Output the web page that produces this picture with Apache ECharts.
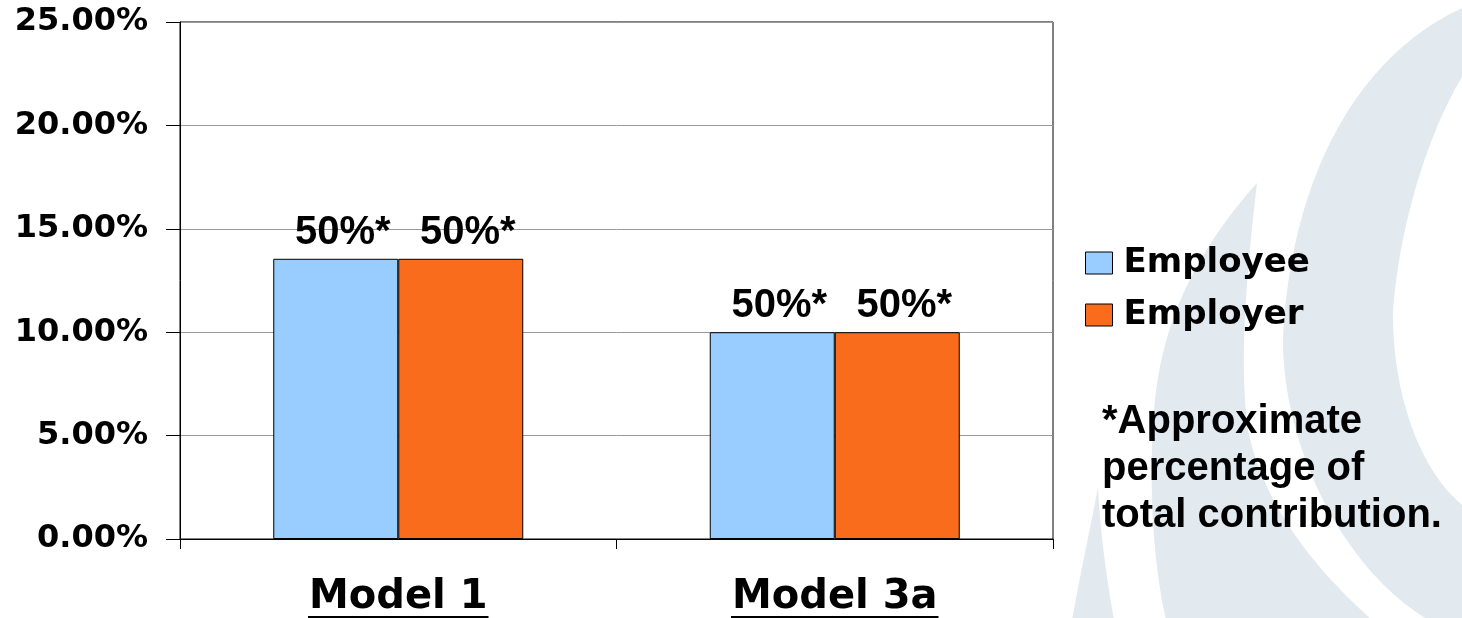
<!DOCTYPE html>
<html>
<head>
<meta charset="utf-8">
<script src="https://cdn.jsdelivr.net/npm/echarts@6/dist/echarts.min.js"></script>
<style>
html,body{margin:0;padding:0;background:#fff;}
#c{width:1462px;height:618px;}
</style>
</head>
<body>
<div id="c"></div>
<script>
// ---- data ----
const categories = ['Model 1', 'Model 3a'];
const seriesNames = ['Employee', 'Employer'];
const employeeValues = [13.55, 10.0];
const employerValues = [13.55, 10.0];
const employeeLabels = ['50%*', '50%*'];
const employerLabels = ['50%*', '50%*'];
const yMin = 0, yMax = 25, yInterval = 5;
const footnoteLines = ['*Approximate', 'percentage of', 'total contribution.'];

const colors = ['#99ccff', '#f96c1c'];
const BG = '#e2e9ef';

const chart = echarts.init(document.getElementById('c'), null, {renderer: 'canvas'});

// sample a chain of cubic bezier segments: start point then [c1,c2,end] triples
function bez(start, segs, n) {
  n = n || 24;
  const pts = [start];
  let p0 = start;
  segs.forEach(s => {
    const [c1, c2, p3] = s;
    for (let i = 1; i <= n; i++) {
      const t = i / n, u = 1 - t;
      pts.push([
        u*u*u*p0[0] + 3*u*u*t*c1[0] + 3*u*t*t*c2[0] + t*t*t*p3[0],
        u*u*u*p0[1] + 3*u*u*t*c1[1] + 3*u*t*t*c2[1] + t*t*t*p3[1]
      ]);
    }
    p0 = p3;
  });
  return pts;
}

function bgShapes() {
  const spike = bez([1098,487], [[[1100,530],[1106,575],[1114,620]]])
    .concat(bez([1072,620], [[[1080,575],[1090,530],[1098,487]]]));
  const crescent = bez([1257,183], [
      [[1215,230],[1165,300],[1155,400]],
      [[1148,470],[1152,560],[1166,620]]])
    .concat(bez([1372,620], [
      [[1310,565],[1262,500],[1248,430]],
      [[1238,360],[1248,260],[1257,183]]]));
  const ring = [[1470,4]].concat(bez([1462,8], [
      [[1360,55],[1296,170],[1284,320]],
      [[1275,420],[1330,560],[1428,620]]]))
    .concat([[1470,620],[1470,512]])
    .concat(bez([1462,505], [
      [[1415,465],[1392,385],[1393,310]],
      [[1400,220],[1430,130],[1462,77]]]))
    .concat([[1470,65]]);
  return [
    {type: 'polygon', z: -10, silent: true, shape: {points: spike}, style: {fill: BG}},
    {type: 'polygon', z: -10, silent: true, shape: {points: crescent}, style: {fill: BG}},
    {type: 'polygon', z: -10, silent: true, shape: {points: ring}, style: {fill: BG}},
    {type: 'text', z: 10, left: 1102, top: 398,
     style: {text: footnoteLines.join('\n'), font: 'bold 40px "Liberation Sans", Arial, sans-serif',
             fill: '#000', lineHeight: 47}}
  ];
}

function mkLabel(arr) {
  return {
    show: true, position: 'top', distance: 6, offset: [7, 0],
    formatter: p => arr[p.dataIndex],
    color: '#000', fontFamily: '"Liberation Sans", Arial, sans-serif',
    fontWeight: 'bold', fontSize: 40
  };
}

const option = {
  animation: false,
  backgroundColor: '#fff',
  grid: {left: 180, right: 409, top: 22, bottom: 78, show: true,
         borderColor: '#000', borderWidth: 1, backgroundColor: 'transparent'},
  legend: {
    data: seriesNames, orient: 'vertical', left: 1080, top: 241,
    itemWidth: 27, itemHeight: 22, itemGap: 18, icon: 'rect',
    itemStyle: {borderColor: '#000', borderWidth: 1},
    textStyle: {fontFamily: '"DejaVu Sans", sans-serif', fontWeight: 'bold',
                fontSize: 34, color: '#000', padding: [0, 0, 0, 6]}
  },
  xAxis: {
    type: 'category', data: categories,
    axisLine: {lineStyle: {color: '#000', width: 1}},
    axisTick: {show: true, length: 10, lineStyle: {color: '#000'}},
    axisLabel: {margin: 39, color: '#000', fontFamily: '"DejaVu Sans", sans-serif',
                fontWeight: 'bold', fontSize: 40}
  },
  yAxis: {
    type: 'value', min: yMin, max: yMax, interval: yInterval,
    axisLine: {show: true, lineStyle: {color: '#000', width: 1}},
    axisTick: {show: true, length: 14, lineStyle: {color: '#000'}},
    splitLine: {show: true, lineStyle: {color: '#999', width: 1}},
    axisLabel: {margin: 32, color: '#000', fontFamily: '"DejaVu Sans", sans-serif',
                fontWeight: 'bold', fontSize: 32,
                formatter: v => v.toFixed(2) + '%'}
  },
  series: [
    {name: seriesNames[0], type: 'bar', data: employeeValues, barWidth: 125, barGap: '0%',
     itemStyle: {color: colors[0], borderColor: '#000', borderWidth: 1},
     label: mkLabel(employeeLabels)},
    {name: seriesNames[1], type: 'bar', data: employerValues, barWidth: 125, barGap: '0%',
     itemStyle: {color: colors[1], borderColor: '#000', borderWidth: 1},
     label: mkLabel(employerLabels)}
  ],
  graphic: {elements: bgShapes()}
};

chart.setOption(option);

// underline the category labels
const ctx = document.createElement('canvas').getContext('2d');
ctx.font = 'bold 40px "DejaVu Sans", sans-serif';
const extra = categories.map((cat, i) => {
  const cx = chart.convertToPixel({xAxisIndex: 0}, i);
  const w = ctx.measureText(cat).width;
  return {type: 'rect', z: 10, silent: true,
          shape: {x: cx - w / 2 - 1, y: 616, width: w + 2, height: 3},
          style: {fill: '#000'}};
});
chart.setOption({graphic: {elements: bgShapes().concat(extra)}}, {replaceMerge: ['graphic']});
</script>
</body>
</html>
